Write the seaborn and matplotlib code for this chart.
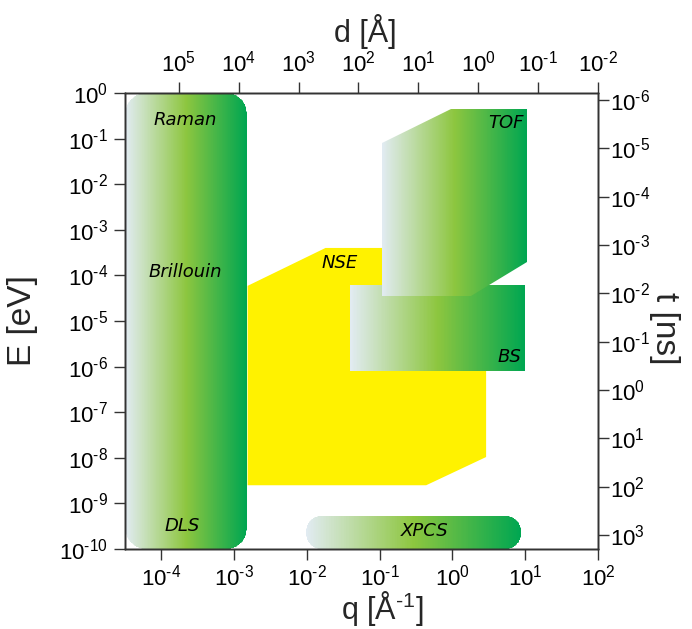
import numpy as np
import matplotlib
matplotlib.use("Agg")
import matplotlib.pyplot as plt
from matplotlib.patches import Polygon
from matplotlib.ticker import FixedLocator, NullLocator, FuncFormatter
import seaborn as sns

# ---------------- data ----------------
q_ticks = [1e-4, 1e-3, 1e-2, 1e-1, 1e0, 1e1, 1e2]
E_ticks = [1e0, 1e-1, 1e-2, 1e-3, 1e-4, 1e-5, 1e-6, 1e-7, 1e-8, 1e-9, 1e-10]
d_ticks = [1e5, 1e4, 1e3, 1e2, 1e1, 1e0, 1e-1, 1e-2]
t_ticks = [1e-6, 1e-5, 1e-4, 1e-3, 1e-2, 1e-1, 1e0, 1e1, 1e2, 1e3]

q_lim = (3.16e-5, 1e2)
E_lim = (1e-10, 1e0)
d_lim = (7.9e5, 1e-2)
t_lim = (1.95e3, 7.2e-7)

# light-scattering box (Raman / Brillouin / DLS)
raman_q = [3.24e-5, 1.48e-3]
raman_E = [1e-10, 1.0]
# XPCS pill
xpcs_q = [9.8e-3, 8.7]
xpcs_E = [1e-10, 5.3e-10]
# NSE (yellow hexagon)
nse_q = [1.53e-3, 1.8e-2, 2.9, 2.9, 0.435, 1.53e-3]
nse_E = [5.9e-5, 4.0e-4, 4.0e-4, 1.04e-8, 2.5e-9, 2.5e-9]
# TOF hexagon
tof_q = [0.108, 0.95, 10.5, 10.5, 1.79, 0.108]
tof_E = [7.89e-2, 0.446, 0.446, 2.0e-4, 3.53e-5, 3.53e-5]
# BS rectangle
bs_q = [0.0395, 9.84, 9.84, 0.0395]
bs_E = [6.15e-5, 6.15e-5, 8.1e-7, 8.1e-7]

labels = ["Raman", "Brillouin", "DLS", "NSE", "TOF", "BS", "XPCS"]
label_q = [2.15e-4, 2.15e-4, 1.9e-4, 2.8e-2, 5.46, 6.0, 0.41]
label_E = [2.56e-1, 1.19e-4, 3.19e-10, 1.87e-4, 2.2e-1, 1.63e-6, 2.48e-10]

# ---------------- style ----------------
sns.set_theme(style="ticks")
plt.rcParams["font.family"] = ["Liberation Sans", "DejaVu Sans"]
plt.rcParams["axes.unicode_minus"] = False
plt.rcParams["mathtext.default"] = "regular"

grad_cmap = sns.blend_palette(["#e1ebf1", "#8dc63f", "#00a651"], as_cmap=True)
yellow = "#fff200"

W, H = 692, 629
fig = plt.figure(figsize=(W / 100, H / 100), dpi=100)
L, R, T, B = 125, 598, 93, 549
ax = fig.add_axes([L / W, 1 - B / H, (R - L) / W, (B - T) / H])
ax.set_xscale("log")
ax.set_yscale("log")
ax.set_xlim(*q_lim)
ax.set_ylim(*E_lim)

px_dec_x = (R - L) / (np.log10(q_lim[1]) - np.log10(q_lim[0]))
px_dec_y = (B - T) / (np.log10(E_lim[1]) - np.log10(E_lim[0]))


def rounded_rect(qs, Es, r_px, n=40):
    lx0, lx1 = np.log10(qs)
    ly0, ly1 = np.log10(Es)
    rx, ry = r_px / px_dec_x, r_px / px_dec_y
    cx = [lx1 - rx, lx0 + rx, lx0 + rx, lx1 - rx]
    cy = [ly1 - ry, ly1 - ry, ly0 + ry, ly0 + ry]
    xs, ys = [], []
    for k in range(4):
        a = np.linspace(k * np.pi / 2, (k + 1) * np.pi / 2, n)
        xs.extend(cx[k] + rx * np.cos(a))
        ys.extend(cy[k] + ry * np.sin(a))
    return 10 ** np.array(xs), 10 ** np.array(ys)


def gradient_shape(qv, Ev, zorder):
    patch = Polygon(np.column_stack([qv, Ev]), closed=True, facecolor="none",
                    edgecolor="none", transform=ax.transData, zorder=zorder)
    ax.add_patch(patch)
    X = np.logspace(np.log10(min(qv)), np.log10(max(qv)), 300)
    Y = np.array([min(Ev), max(Ev)])
    C = np.linspace(0, 1, len(X) - 1)[None, :]
    mesh = ax.pcolormesh(X, Y, C, cmap=grad_cmap, vmin=0, vmax=1, shading="flat",
                         edgecolors="none", linewidth=0, antialiased=False, zorder=zorder)
    mesh.set_clip_path(patch)


# NSE
ax.add_patch(Polygon(np.column_stack([nse_q, nse_E]), closed=True, facecolor=yellow,
                     edgecolor="none", zorder=1))
# BS, TOF
gradient_shape(bs_q, bs_E, 1.5)
gradient_shape(tof_q, tof_E, 1.7)
# rounded boxes
rq, rE = rounded_rect(raman_q, raman_E, 20)
gradient_shape(rq, rE, 1.5)
xq, xE = rounded_rect(xpcs_q, xpcs_E, 15)
gradient_shape(xq, xE, 1.5)

for lab, qq, ee in zip(labels, label_q, label_E):
    ax.text(qq, ee, lab, ha="center", va="center", fontsize=13, style="italic",
            family="DejaVu Sans", color="black", zorder=5)


# ---------------- axes ----------------
def pow_fmt(v, pos):
    e = int(round(np.log10(v)))
    s = str(e).replace("-", "\u2010")
    return "$\\mathdefault{10^{" + s + "}}$"


fmt = FuncFormatter(pow_fmt)
spine_col = "#333333"
tick_kw = dict(direction="out", length=8, width=1.0, color=spine_col,
               labelsize=16, labelcolor="black")

ax.xaxis.set_major_locator(FixedLocator(q_ticks))
ax.yaxis.set_major_locator(FixedLocator(E_ticks))
ax.xaxis.set_minor_locator(NullLocator())
ax.yaxis.set_minor_locator(NullLocator())
ax.xaxis.set_major_formatter(fmt)
ax.yaxis.set_major_formatter(fmt)
ax.tick_params(axis="x", pad=3, **tick_kw)
ax.tick_params(axis="y", pad=4, **tick_kw)
for s in ax.spines.values():
    s.set_visible(True)
    s.set_color(spine_col)
    s.set_linewidth(1.0)

ax_t = ax.twiny()
ax_t.set_xscale("log")
ax_t.set_xlim(*d_lim)
ax_t.xaxis.set_major_locator(FixedLocator(d_ticks))
ax_t.xaxis.set_minor_locator(NullLocator())
ax_t.xaxis.set_major_formatter(fmt)
ax_t.tick_params(axis="x", pad=4, **tick_kw)

ax_r = ax.twinx()
ax_r.set_yscale("log")
ax_r.set_ylim(*t_lim)
ax_r.yaxis.set_major_locator(FixedLocator(t_ticks))
ax_r.yaxis.set_minor_locator(NullLocator())
ax_r.yaxis.set_major_formatter(fmt)
ax_r.tick_params(axis="y", pad=1, **tick_kw)
for a in (ax_t, ax_r):
    for s in a.spines.values():
        s.set_color(spine_col)
        s.set_linewidth(1.0)

ax.set_xlabel("q [Å$^{\u20101}$]", fontsize=22)
ax.xaxis.set_label_coords((382 - L) / (R - L), (B - 589) / (B - T))
ax.set_ylabel("E [eV]", fontsize=24)
ax.yaxis.set_label_coords((38 - L) / (R - L), 0.5)
ax_t.set_xlabel("d [Å]", fontsize=22)
ax_t.xaxis.set_label_coords((365 - L) / (R - L), (B - 42) / (B - T))
ax_r.set_ylabel("t [ns]", fontsize=24, rotation=270, va="bottom")
ax_r.yaxis.set_label_coords((649 - L) / (R - L), (B - 328) / (B - T))

fig.savefig("out.png", dpi=100)
